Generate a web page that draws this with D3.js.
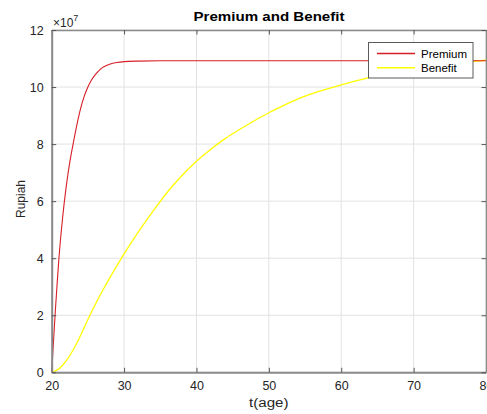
<!DOCTYPE html>
<html>
<head>
<meta charset="utf-8">
<script src="https://cdn.jsdelivr.net/npm/d3@7"></script>
<style>
  html, body { margin: 0; padding: 0; background: #fff; }
  svg { display: block; font-family: Arial, "Liberation Sans", Helvetica, sans-serif; }
</style>
</head>
<body>
<div id="chart"></div>
<script>
// ---- data (values in units of 1e7 Rupiah) ----
const premiumAge = [20, 20.25, 20.5, 20.75, 21, 21.5, 22, 22.5, 23, 23.5, 24, 24.5, 25, 25.5, 26, 26.5, 27, 27.5, 28, 29, 30, 32, 35, 40, 50, 60, 70, 80];
const premiumVal = [0, 1.1, 2.15, 3.1, 4.0, 5.4, 6.5, 7.37, 8.06, 8.7, 9.25, 9.68, 10.0, 10.25, 10.43, 10.57, 10.68, 10.75, 10.8, 10.86, 10.89, 10.91, 10.92, 10.92, 10.92, 10.92, 10.92, 10.92];

const benefitAge = [20, 21, 22, 23, 24, 25, 26, 27, 28, 29, 30, 32, 34, 36, 38, 40, 42, 44, 46, 48, 50, 52, 55, 58, 60, 63, 66, 70, 75, 80];
const benefitVal = [0, 0.12, 0.4, 0.8, 1.3, 1.85, 2.37, 2.85, 3.3, 3.73, 4.15, 4.93, 5.65, 6.32, 6.9, 7.4, 7.82, 8.2, 8.52, 8.82, 9.1, 9.35, 9.68, 9.93, 10.08, 10.28, 10.45, 10.64, 10.82, 10.94];

const xTicks = [20, 30, 40, 50, 60, 70, 80];
const yTicks = [0, 2, 4, 6, 8, 10, 12];
const seriesNames = ["Premium", "Benefit"];
const seriesColors = ["#d81e26", "#ffff00"];

// ---- layout ----
const W = 487, H = 414;
const L = 51.7, R = 486, T = 30, B = 372.3;

const svg = d3.select("#chart").append("svg").attr("width", W).attr("height", H);

const x = d3.scaleLinear().domain([20, 80]).range([L, R]);
const y = d3.scaleLinear().domain([0, 12]).range([B, T]);

// grid
svg.append("g").selectAll("line").data(xTicks).join("line")
  .attr("x1", d => x(d)).attr("x2", d => x(d)).attr("y1", T).attr("y2", B)
  .attr("stroke", "#e2e2e2").attr("stroke-width", 1);
svg.append("g").selectAll("line").data(yTicks).join("line")
  .attr("y1", d => y(d)).attr("y2", d => y(d)).attr("x1", L).attr("x2", R)
  .attr("stroke", "#e2e2e2").attr("stroke-width", 1);

// lines
const line = d3.line().x(d => x(d[0])).y(d => y(d[1])).curve(d3.curveMonotoneX);
const premium = premiumAge.map((a, i) => [a, premiumVal[i]]);
const benefit = benefitAge.map((a, i) => [a, benefitVal[i]]);
svg.append("path").datum(benefit).attr("d", line).attr("fill", "none")
  .attr("stroke", seriesColors[1]).attr("stroke-width", 1.3);
svg.append("path").datum(premium).attr("d", line).attr("fill", "none")
  .attr("stroke", seriesColors[0]).attr("stroke-width", 1.1);

// axes
const axisColor = "#8a8a8a";
const tickLen = 4.5;
const gB = svg.append("g").attr("transform", `translate(0,${B})`)
  .call(d3.axisBottom(x).tickValues(xTicks).tickSizeInner(-tickLen).tickSizeOuter(0).tickPadding(9).tickFormat(d3.format("d")));
const gT = svg.append("g").attr("transform", `translate(0,${T})`)
  .call(d3.axisTop(x).tickValues(xTicks).tickSizeInner(-tickLen).tickSizeOuter(0).tickFormat(""));
const gL = svg.append("g").attr("transform", `translate(${L},0)`)
  .call(d3.axisLeft(y).tickValues(yTicks).tickSizeInner(-tickLen).tickSizeOuter(0).tickPadding(8).tickFormat(d3.format("d")));
const gR = svg.append("g").attr("transform", `translate(${R},0)`)
  .call(d3.axisRight(y).tickValues(yTicks).tickSizeInner(-tickLen).tickSizeOuter(0).tickFormat(""));
[gB, gT, gL, gR].forEach(g => {
  g.select(".domain").attr("stroke", axisColor).attr("stroke-width", 2);
  g.selectAll(".tick line").attr("stroke", "#555").attr("stroke-width", 1);
  g.selectAll(".tick text").attr("fill", "#262626").style("font-size", "12.5px")
    .style("font-family", "Arial, 'Liberation Sans', sans-serif");
});
gB.selectAll(".tick text").attr("dy", "0.71em");
gT.select(".domain").attr("stroke-width", 1.5);
gR.select(".domain").attr("stroke-width", 1.5);

// exponent
const ex = svg.append("text").attr("x", 53).attr("y", 27).attr("fill", "#262626")
  .style("font-size", "12px");
ex.append("tspan").text("×10");
ex.append("tspan").attr("dy", -6).style("font-size", "9px").text("7");

// title
svg.append("text").attr("x", 193.5).attr("y", 20.5)
  .attr("textLength", 151).attr("lengthAdjust", "spacingAndGlyphs")
  .attr("fill", "#000").style("font-size", "13.5px").style("font-weight", "bold")
  .text("Premium and Benefit");

// axis labels
svg.append("text").attr("x", 249).attr("y", 407)
  .attr("textLength", 39.5).attr("lengthAdjust", "spacingAndGlyphs")
  .attr("fill", "#262626").style("font-size", "12.5px").text("t(age)");
svg.append("text").attr("transform", `translate(25,${199 + 19}) rotate(-90)`)
  .attr("textLength", 38).attr("lengthAdjust", "spacingAndGlyphs")
  .attr("fill", "#262626").style("font-size", "12.5px").text("Rupiah");

// legend
const lg = svg.append("g");
lg.append("rect").attr("x", 368.5).attr("y", 42.5).attr("width", 104.5).attr("height", 35.5)
  .attr("fill", "#fff").attr("stroke", "#5a5a5a").attr("stroke-width", 1);
seriesNames.forEach((n, i) => {
  const yy = 53.5 + i * 14.3;
  lg.append("line").attr("x1", 377).attr("x2", 415).attr("y1", yy).attr("y2", yy)
    .attr("stroke", seriesColors[i]).attr("stroke-width", 1.4);
  lg.append("text").attr("x", 421).attr("y", yy + 4).attr("fill", "#000")
    .style("font-size", "11.5px").text(n);
});
</script>
</body>
</html>
